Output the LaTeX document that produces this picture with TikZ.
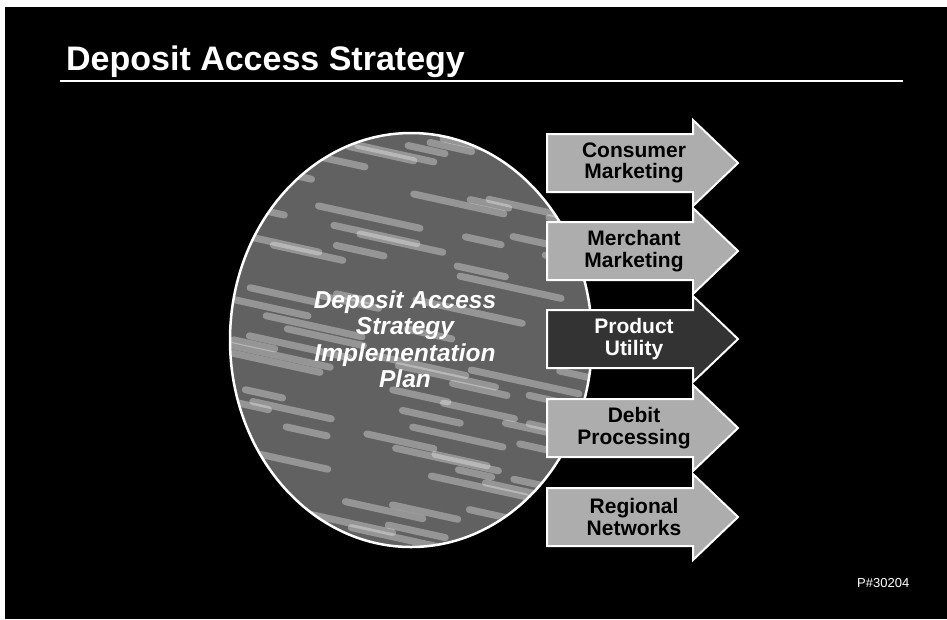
\documentclass[tikz,border=0pt]{standalone}
\usepackage{fontspec}
\setmainfont{Liberation Sans}
\usetikzlibrary{shapes.geometric}
\tikzset{%
	plan disc/.style={
		ellipse,
		draw=white,
		line width=2.5pt,
		fill=black!62,
		minimum width=362pt,
		minimum height=414pt
	},
	streak/.style={white, opacity=0.33, line width=7pt, line cap=round},
	signpost/.style={draw=white, line width=2pt, line join=miter},
	pale signpost/.style={signpost, fill=black!32},
	dark signpost/.style={signpost, fill=black!80},
	pale label/.style={
		text=black,
		font=\fontsize{21}{21.5}\selectfont\bfseries,
		align=center,
		inner sep=0pt
	},
	dark label/.style={pale label, text=white},
}

\begin{document}
\begin{tikzpicture}[x=1pt, y=-1pt]
	% page and black slide
	\useasboundingbox (0,0) rectangle (947,619);
	\fill[white] (0,0) rectangle (947,619);
	\fill[black] (5,7) rectangle (947,619);
	
	% title and rule
	\node[anchor=base west, inner sep=0pt, text=white, font=\fontsize{34}{36}\selectfont\bfseries] (title) at (66,70) {Deposit Access Strategy};
	\coordinate (rule left) at (60,81);
	\coordinate (rule right) at (903,81);
	\draw[white, line width=2.5pt] (rule left) -- (rule right);
	
	% textured disc (streaks are placed relative to its centre)
	\pgfmathsetseed{30204}
	\node[plan disc, path picture={
			\foreach \k in {1,...,80}{
				\pgfmathsetmacro\sx{-240+420*rnd}
				\pgfmathsetmacro\sy{-230+460*rnd}
				\pgfmathsetmacro\sl{30+80*rnd}
				\draw[streak] (\sx,\sy) -- ++(\sl,0.22*\sl);
			}
		}] (plan) at (411,340) {};
	\node[align=center, inner sep=0pt, text=white, font=\fontsize{24.5}{26.5}\selectfont\bfseries\itshape] (plan text) at (405,339) {Deposit Access\\Strategy\\Implementation\\Plan};
	
	% five arrows
	\foreach \tone/\lbl/\yc [count=\i] in {pale/{Consumer\\Marketing}/163, pale/{Merchant\\Marketing}/251, dark/{Product\\Utility}/339, pale/{Debit\\Processing}/428, pale/{Regional\\Networks}/517}{
		\draw[\tone\space signpost] (547,\yc-29) -- ++(146,0) -- ++(0,-14) -- (738,\yc) -- (693,\yc+43) -- ++(0,-14) -- (547,\yc+29) -- cycle;
		\node[\tone\space label] (arrow\i) at (634,\yc) {\lbl};
	}
	
	% page code
	\node[anchor=west, inner sep=0pt, text=white, font=\fontsize{13}{15}\selectfont] (code) at (857,583) {P\#30204};
\end{tikzpicture}
\end{document}
